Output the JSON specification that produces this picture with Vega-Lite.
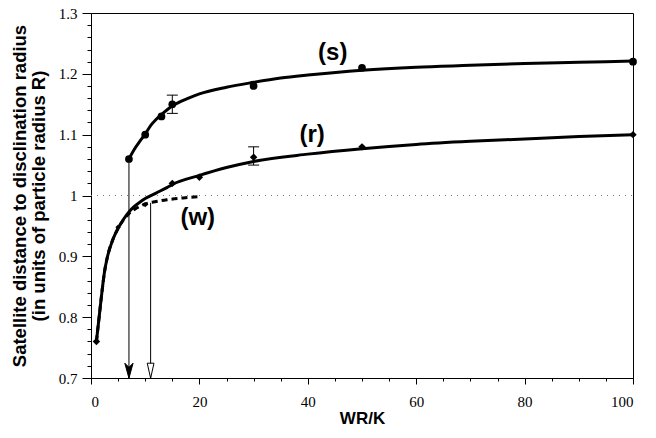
{
  "$schema": "https://vega.github.io/schema/vega-lite/v6.json",
  "autosize": {"type": "none"},
  "width": 542,
  "height": 365,
  "padding": {"left": 91, "top": 13, "right": 23, "bottom": 60},
  "background": "white",
  "view": {"stroke": "black", "strokeWidth": 1},
  "config": {
    "axis": {"domainColor": "black", "tickColor": "black", "labelColor": "black", "titleColor": "black", "grid": false, "labelOverlap": false,
      "labelFont": "Liberation Serif", "labelFontSize": 15, "titleFont": "Liberation Sans", "titleFontWeight": "bold", "titleFontSize": 17}
  },
  "datasets": {
    "curves": [
      {"series": "s", "x": 7, "y": 1.06}, {"series": "s", "x": 8, "y": 1.076}, {"series": "s", "x": 9, "y": 1.089},
      {"series": "s", "x": 10, "y": 1.101}, {"series": "s", "x": 11, "y": 1.115}, {"series": "s", "x": 12, "y": 1.125},
      {"series": "s", "x": 13, "y": 1.133}, {"series": "s", "x": 15, "y": 1.147}, {"series": "s", "x": 18, "y": 1.16},
      {"series": "s", "x": 20, "y": 1.167}, {"series": "s", "x": 25, "y": 1.178}, {"series": "s", "x": 30, "y": 1.186},
      {"series": "s", "x": 35, "y": 1.193}, {"series": "s", "x": 40, "y": 1.198}, {"series": "s", "x": 50, "y": 1.206},
      {"series": "s", "x": 60, "y": 1.211}, {"series": "s", "x": 70, "y": 1.214}, {"series": "s", "x": 80, "y": 1.217},
      {"series": "s", "x": 90, "y": 1.219}, {"series": "s", "x": 100, "y": 1.221},
      {"series": "r", "x": 1, "y": 0.76}, {"series": "r", "x": 1.5, "y": 0.8}, {"series": "r", "x": 2, "y": 0.84},
      {"series": "r", "x": 2.5, "y": 0.875}, {"series": "r", "x": 3, "y": 0.898}, {"series": "r", "x": 4, "y": 0.927},
      {"series": "r", "x": 5, "y": 0.946}, {"series": "r", "x": 6, "y": 0.961}, {"series": "r", "x": 7, "y": 0.973},
      {"series": "r", "x": 8, "y": 0.982}, {"series": "r", "x": 9, "y": 0.989}, {"series": "r", "x": 10, "y": 0.995},
      {"series": "r", "x": 12, "y": 1.004}, {"series": "r", "x": 14, "y": 1.013}, {"series": "r", "x": 15, "y": 1.018},
      {"series": "r", "x": 20, "y": 1.033}, {"series": "r", "x": 25, "y": 1.046}, {"series": "r", "x": 30, "y": 1.056},
      {"series": "r", "x": 40, "y": 1.068}, {"series": "r", "x": 50, "y": 1.077}, {"series": "r", "x": 60, "y": 1.084},
      {"series": "r", "x": 70, "y": 1.089}, {"series": "r", "x": 80, "y": 1.093}, {"series": "r", "x": 90, "y": 1.097},
      {"series": "r", "x": 100, "y": 1.1}
    ],
    "wcurve": [
      {"x": 1, "y": 0.76}, {"x": 1.5, "y": 0.8}, {"x": 2, "y": 0.84}, {"x": 2.5, "y": 0.875}, {"x": 3, "y": 0.898},
      {"x": 4, "y": 0.927}, {"x": 5, "y": 0.946}, {"x": 6, "y": 0.96}, {"x": 7, "y": 0.97}, {"x": 8, "y": 0.977},
      {"x": 9, "y": 0.982}, {"x": 10, "y": 0.986}, {"x": 12, "y": 0.99}, {"x": 14, "y": 0.993}, {"x": 17, "y": 0.996},
      {"x": 20, "y": 0.998}
    ],
    "points": [
      {"series": "s", "x": 7, "y": 1.06}, {"series": "s", "x": 10, "y": 1.1}, {"series": "s", "x": 13, "y": 1.13},
      {"series": "s", "x": 15, "y": 1.15}, {"series": "s", "x": 30, "y": 1.18}, {"series": "s", "x": 50, "y": 1.21},
      {"series": "s", "x": 100, "y": 1.22},
      {"series": "r", "x": 1, "y": 0.76}, {"series": "r", "x": 15, "y": 1.02}, {"series": "r", "x": 20, "y": 1.03},
      {"series": "r", "x": 30, "y": 1.063}, {"series": "r", "x": 50, "y": 1.08}, {"series": "r", "x": 100, "y": 1.1},
      {"series": "w", "x": 5, "y": 0.948}, {"series": "w", "x": 10, "y": 0.985}
    ],
    "errors": [
      {"x": 15, "lo": 1.135, "hi": 1.165},
      {"x": 30, "lo": 1.05, "hi": 1.08}
    ],
    "arrows": [
      {"kind": "solid", "x": 7, "top": 1.06, "bottom": 0.7, "head": 0.712},
      {"kind": "open", "x": 11, "top": 0.988, "bottom": 0.7, "head": 0.712}
    ],
    "labels": [
      {"text": "(s)", "x": 44.6, "y": 1.235},
      {"text": "(r)", "x": 40.8, "y": 1.099},
      {"text": "(w)", "x": 19.7, "y": 0.963}
    ]
  },
  "layer": [
    {
      "data": {"values": [{"x": 0, "x2": 100, "y": 1}]},
      "mark": {"type": "rule", "stroke": "#777777", "strokeWidth": 1, "strokeDash": [1, 5]},
      "encoding": {
        "x": {"field": "x", "type": "quantitative", "scale": {"domain": [0, 100], "nice": false, "zero": false},
          "axis": {"title": "WR/K", "values": [0,5,10,15,20,25,30,35,40,45,50,55,60,65,70,75,80,85,90,95,100],
            "tickCount": 500, "labelOverlap": false, "format": "d",
            "labelExpr": "datum.value % 20 == 0 ? datum.label : ''", "tickSize": {"condition": {"test": "datum.value % 20 == 0", "value": 6}, "value": 3},
            "labelPadding": 10, "titleBaseline": "middle", "titleY": 40}},
        "x2": {"field": "x2"},
        "y": {"field": "y", "type": "quantitative", "scale": {"domain": [0.7, 1.3], "nice": false, "zero": false},
          "axis": {"title": ["Satellite distance to disclination radius", "(in units of particle radius R)"],
            "values": [0.7,0.72,0.74,0.76,0.78,0.8,0.82,0.84,0.86,0.88,0.9,0.92,0.94,0.96,0.98,1,1.02,1.04,1.06,1.08,1.1,1.12,1.14,1.16,1.18,1.2,1.22,1.24,1.26,1.28,1.3],
            "tickCount": 500, "format": "~g", "labelOverlap": false,
            "labelExpr": "abs(datum.value*10 - round(datum.value*10)) < 0.001 ? datum.label : ''",
            "tickSize": {"condition": {"test": "abs(datum.value*10 - round(datum.value*10)) < 0.001", "value": 9}, "value": 4},
            "labelPadding": 5, "titlePadding": 10, "titleFontSize": 18.5, "titleLineHeight": 19}}
      }
    },
    {
      "data": {"name": "arrows"},
      "mark": {"type": "rule", "stroke": "black", "strokeWidth": 1},
      "encoding": {
        "x": {"field": "x", "type": "quantitative"},
        "y": {"field": "top", "type": "quantitative"},
        "y2": {"field": "bottom"}
      }
    },
    {
      "data": {"name": "arrows"},
      "transform": [{"filter": "datum.kind == 'solid'"}],
      "mark": {"type": "point", "shape": "M-0.55,-1L0,1L0.55,-1L0,-0.45Z", "filled": true, "fill": "black", "stroke": "black", "strokeWidth": 1, "size": 225, "opacity": 1},
      "encoding": {
        "x": {"field": "x", "type": "quantitative"},
        "y": {"field": "head", "type": "quantitative"}
      }
    },
    {
      "data": {"name": "arrows"},
      "transform": [{"filter": "datum.kind == 'open'"}],
      "mark": {"type": "point", "shape": "M-0.45,-1L0,1L0.45,-1Z", "filled": true, "fill": "white", "stroke": "black", "strokeWidth": 1, "size": 225, "opacity": 1},
      "encoding": {
        "x": {"field": "x", "type": "quantitative"},
        "y": {"field": "head", "type": "quantitative"}
      }
    },
    {
      "data": {"name": "curves"},
      "mark": {"type": "line", "interpolate": "monotone", "stroke": "black", "strokeWidth": 3},
      "encoding": {
        "x": {"field": "x", "type": "quantitative"},
        "y": {"field": "y", "type": "quantitative"},
        "detail": {"field": "series"}
      }
    },
    {
      "data": {"name": "wcurve"},
      "mark": {"type": "line", "interpolate": "monotone", "stroke": "black", "strokeWidth": 3, "strokeDash": [6, 4]},
      "encoding": {
        "x": {"field": "x", "type": "quantitative"},
        "y": {"field": "y", "type": "quantitative"}
      }
    },
    {
      "data": {"name": "errors"},
      "mark": {"type": "rule", "stroke": "black", "strokeWidth": 1},
      "encoding": {
        "x": {"field": "x", "type": "quantitative"},
        "y": {"field": "lo", "type": "quantitative"},
        "y2": {"field": "hi"}
      }
    },
    {
      "data": {"name": "errors"},
      "mark": {"type": "tick", "orient": "horizontal", "color": "black", "thickness": 1, "size": 11, "opacity": 1},
      "encoding": {
        "x": {"field": "x", "type": "quantitative"},
        "y": {"field": "lo", "type": "quantitative"}
      }
    },
    {
      "data": {"name": "errors"},
      "mark": {"type": "tick", "orient": "horizontal", "color": "black", "thickness": 1, "size": 11, "opacity": 1},
      "encoding": {
        "x": {"field": "x", "type": "quantitative"},
        "y": {"field": "hi", "type": "quantitative"}
      }
    },
    {
      "data": {"name": "points"},
      "transform": [{"filter": "datum.series == 's'"}],
      "mark": {"type": "point", "shape": "circle", "filled": true, "color": "black", "size": 60, "opacity": 1},
      "encoding": {
        "x": {"field": "x", "type": "quantitative"},
        "y": {"field": "y", "type": "quantitative"}
      }
    },
    {
      "data": {"name": "points"},
      "transform": [{"filter": "datum.series == 'r'"}],
      "mark": {"type": "point", "shape": "diamond", "filled": true, "color": "black", "size": 55, "opacity": 1},
      "encoding": {
        "x": {"field": "x", "type": "quantitative"},
        "y": {"field": "y", "type": "quantitative"}
      }
    },
    {
      "data": {"name": "points"},
      "transform": [{"filter": "datum.series == 'w'"}],
      "mark": {"type": "point", "shape": "diamond", "filled": true, "color": "black", "size": 30, "opacity": 1},
      "encoding": {
        "x": {"field": "x", "type": "quantitative"},
        "y": {"field": "y", "type": "quantitative"}
      }
    },
    {
      "data": {"name": "labels"},
      "mark": {"type": "text", "font": "Liberation Sans", "fontWeight": "bold", "fontSize": 24, "color": "black", "align": "center", "baseline": "middle"},
      "encoding": {
        "x": {"field": "x", "type": "quantitative"},
        "y": {"field": "y", "type": "quantitative"},
        "text": {"field": "text"}
      }
    }
  ]
}
